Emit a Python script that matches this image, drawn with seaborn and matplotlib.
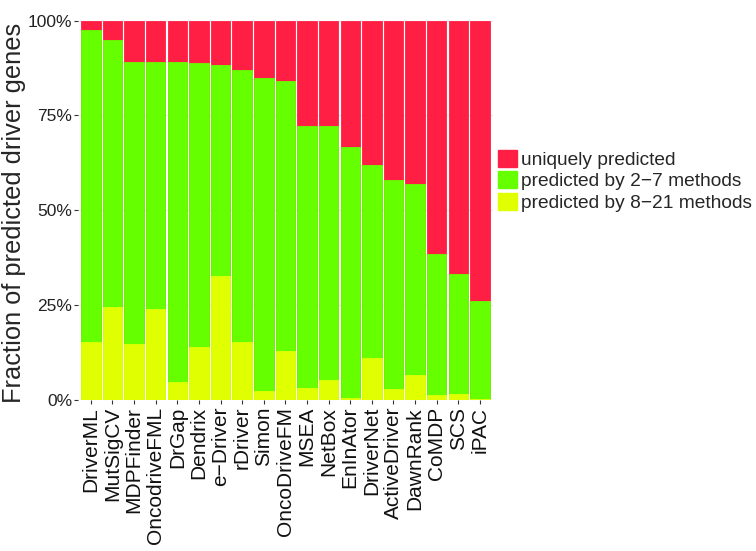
import matplotlib
matplotlib.use("Agg")
import matplotlib.pyplot as plt
from matplotlib.patches import Patch
import seaborn as sns
import pandas as pd

methods = ["DriverML", "MutSigCV", "MDPFinder", "OncodriveFML", "DrGap", "Dendrix",
           "e\u2212Driver", "rDriver", "Simon", "OncoDriveFM", "MSEA", "NetBox",
           "EnInAtor", "DriverNet", "ActiveDriver", "DawnRank", "CoMDP", "SCS", "iPAC"]
# percent of predicted genes per group
high = [15.4, 24.5, 14.7, 23.9, 4.7, 14.0, 32.6, 15.2, 2.5, 12.8,
        3.2, 5.4, 0.5, 11.1, 2.8, 6.7, 1.3, 1.7, 0.4]
mid = [82.1, 70.3, 74.5, 65.2, 84.3, 74.8, 55.8, 71.7, 82.3, 71.4,
       69.1, 66.9, 66.3, 50.8, 55.2, 50.2, 37.1, 31.6, 25.8]
unique = [2.5, 5.2, 10.8, 10.9, 11.0, 11.2, 11.6, 13.1, 15.2, 15.8,
          27.7, 27.7, 33.2, 38.1, 42.0, 43.1, 61.6, 66.7, 73.8]

labels = ["uniquely predicted", "predicted by 2\u22127 methods", "predicted by 8\u221221 methods"]
colors = ["#FF1F44", "#66FF00", "#E0FF00"]

df = pd.DataFrame({"method": methods, "high": high, "mid": mid, "unique": unique})
df["top_high"] = df["high"] / 100
df["top_mid"] = (df["high"] + df["mid"]) / 100
df["top_all"] = (df["high"] + df["mid"] + df["unique"]) / 100

sns.set_style("white")
plt.rcParams["font.family"] = ["Liberation Sans", "DejaVu Sans"]

fig = plt.figure(figsize=(7.56, 5.51), dpi=100)
ax = fig.add_axes([0.103, 0.274, 0.549, 0.692])

for col, c in zip(["top_all", "top_mid", "top_high"], colors):
    sns.barplot(data=df, x="method", y=col, order=methods, color=c, width=0.9,
                edgecolor=c, linewidth=0.6, saturation=1, ax=ax, zorder=2)

ax.set_ylim(0, 1.005)
ax.set_xlim(-0.6, len(methods) - 0.4)
ax.set_yticks([0, 0.25, 0.5, 0.75, 1.0])
ax.set_yticklabels(["0%", "25%", "50%", "75%", "100%"], fontsize=12.5, color="#222222")
ax.set_xticks(range(len(methods)))
ax.set_xticklabels(methods, rotation=90, fontsize=15, color="#111111")
ax.tick_params(axis="both", length=3, width=0.8, color="#333333",
               bottom=True, left=True)
ax.tick_params(axis="y", pad=1)
ax.tick_params(axis="x", pad=2)
ax.yaxis.grid(True, color="#EBEBEB", linewidth=0.8, zorder=0)
ax.set_axisbelow(True)
for s in ax.spines.values():
    s.set_visible(False)
ax.set_xlabel("")
ax.set_ylabel("Fraction of predicted driver genes", fontsize=18.3)
ax.yaxis.set_label_coords(-0.124, 0.49)

handles = [Patch(facecolor=c, edgecolor=c) for c in colors]
fig.legend(handles, labels, loc="center left", bbox_to_anchor=(0.648, 0.672),
           frameon=False, fontsize=13.8, handlelength=1.0, handleheight=1.0,
           handletextpad=0.2, labelspacing=0.12, borderaxespad=0)

fig.savefig("out.png", dpi=100)
